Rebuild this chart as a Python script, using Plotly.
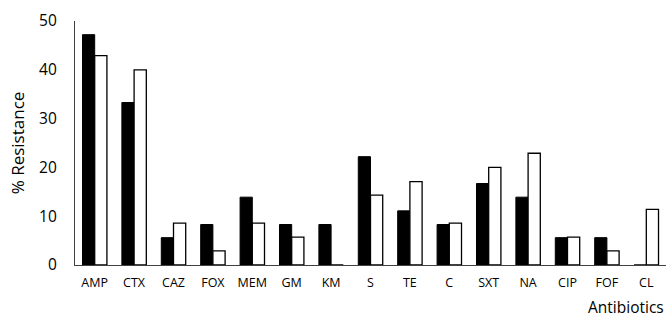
import plotly.graph_objects as go

antibiotics = ["AMP", "CTX", "CAZ", "FOX", "MEM", "GM", "KM", "S", "TE", "C", "SXT", "NA", "CIP", "FOF", "CL"]
series_a = [47.2, 33.3, 5.6, 8.3, 13.9, 8.3, 8.3, 22.2, 11.1, 8.3, 16.7, 13.9, 5.6, 5.6, 0]
series_b = [42.9, 40.0, 8.6, 2.9, 8.6, 5.7, 0, 14.3, 17.1, 8.6, 20.0, 22.9, 5.7, 2.9, 11.4]
y_ticks = [0, 10, 20, 30, 40, 50]

fig = go.Figure()
fig.add_trace(go.Bar(x=antibiotics, y=series_a, name="A",
                     marker=dict(color="black", line=dict(color="black", width=1))))
fig.add_trace(go.Bar(x=antibiotics, y=series_b, name="B",
                     marker=dict(color="white", line=dict(color="black", width=1.3))))

fig.update_layout(
    width=670, height=335,
    margin=dict(l=75, r=4, t=21, b=70),
    paper_bgcolor="white", plot_bgcolor="white",
    barmode="group", bargap=0.38, bargroupgap=0,
    showlegend=False,
    font=dict(family="Open Sans, Liberation Sans, sans-serif", color="black"),
)
fig.update_xaxes(
    showline=True, linecolor="#404040", linewidth=1.3,
    showgrid=False, ticks="", tickfont=dict(size=12.5),
    ticklabelstandoff=6,
)
fig.update_yaxes(
    range=[0, 50], tickvals=y_ticks, showline=True, linecolor="#404040", linewidth=1.3,
    showgrid=False, zeroline=False, ticks="", tickfont=dict(size=15.5),
    ticklabelstandoff=14,
    title=dict(text="% Resistance", font=dict(size=17), standoff=10),
)
fig.add_annotation(text="Antibiotics", xref="paper", yref="paper", x=1, y=0,
                   xanchor="right", yanchor="top", yshift=-29, showarrow=False,
                   font=dict(size=15.5))

fig.write_html("out.html", config={"displayModeBar": False},
               post_script="document.body.style.margin='0';")
